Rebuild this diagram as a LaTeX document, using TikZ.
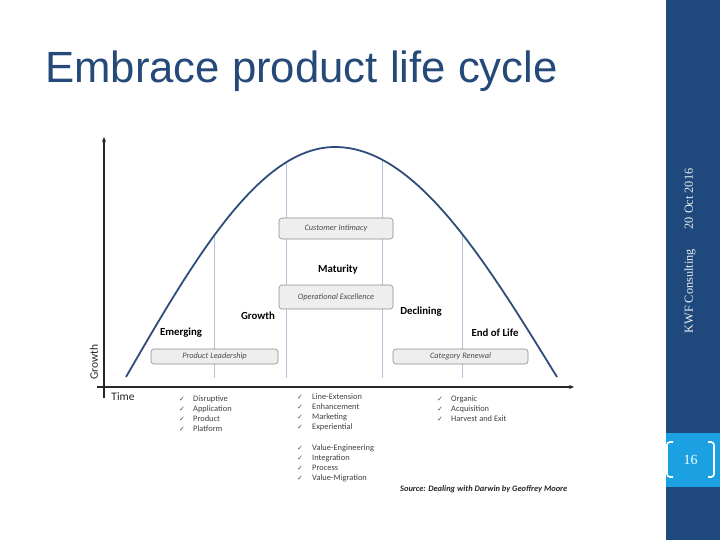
\documentclass[tikz,border=0pt]{standalone}
\usepackage{fontspec}
\setmainfont{Carlito}
\newfontfamily\titlefont{Liberation Sans}
\newfontfamily\sidefont{Liberation Serif}
\newfontfamily\symfont{DejaVu Sans}
\usetikzlibrary{arrows.meta}
\definecolor{sidebar}{HTML}{1F497D}
\definecolor{pagebox}{HTML}{1BA1E2}
\definecolor{curveblue}{HTML}{2E4D7B}
\definecolor{guide}{HTML}{B4C6D6}
\definecolor{boxfill}{HTML}{EEEEEE}
\definecolor{boxline}{HTML}{8C8C8C}
\definecolor{titleblue}{HTML}{254A7A}
\begin{document}
\begin{tikzpicture}[x=1pt,y=-1pt,
  stagebox/.style={draw=boxline, fill=boxfill, rounded corners=3pt, line width=0.6pt,
     inner sep=0, font=\fontsize{8.3}{10}\selectfont\itshape, text=black!70},
  phase/.style={font=\fontsize{10.8}{13}\selectfont\bfseries, inner sep=0},
  item/.style={font=\fontsize{8.4}{10}\selectfont, text=black!75, anchor=west, inner sep=0},
  tickmark/.style={font=\symfont\fontsize{7}{8}\selectfont, text=black!70, inner sep=0},
  guideline/.style={draw=guide, line width=0.7pt},
  axis/.style={draw=black!85, line width=1.3pt}
]
\useasboundingbox (0,0) rectangle (720,540);
% sidebar
\fill[sidebar] (666,0) rectangle (720,540);
\fill[pagebox] (666,433) rectangle (720,487);
\draw[white, line width=1.6pt, rounded corners=3pt] (673,442) -- (667,442) -- (667,477) -- (673,477);
\draw[white, line width=1.6pt, rounded corners=3pt] (708,442) -- (714,442) -- (714,477) -- (708,477);
\node[text=white, font=\sidefont\fontsize{14}{16}\selectfont] (page) at (690.5,460) {16};
\node[rotate=90, text=white!90!sidebar, font=\sidefont\fontsize{12.3}{14}\selectfont] (footer) at (690,251) {KWF Consulting\hspace{1.6em}20 Oct 2016};
% title
\node[anchor=base west, inner sep=0, text=titleblue, font=\titlefont\fontsize{43.7}{50}\selectfont] (title) at (45,83) {Embrace product life cycle};
% axes
\coordinate (ytop) at (104,137);
\coordinate (ybot) at (104,398);
\coordinate (xleft) at (97,387);
\coordinate (xright) at (574,387);
\draw[axis, -{Stealth[length=5pt,width=4pt]}] (ybot) -- (ytop);
\draw[axis, -{Stealth[length=5pt,width=4pt]}] (xleft) -- (xright);
\node[rotate=90, font=\fontsize{11.5}{13}\selectfont, text=black!85] (ylab) at (94,362) {Growth};
\node[font=\fontsize{11.5}{13}\selectfont, text=black!85] (xlab) at (123,397) {Time};
% curve
\coordinate (c1) at (214,236);
\coordinate (c2) at (286,162.5);
\coordinate (c4) at (382,159.6);
\coordinate (c5) at (462,233.8);
\coordinate (base) at (0,378);
\draw[guideline] (c1) -- (c1 |- base);
\draw[guideline] (c2) -- (c2 |- base);
\draw[guideline] (c4) -- (c4 |- base);
\draw[guideline] (c5) -- (c5 |- base);
\draw[curveblue, line width=1.8pt, line join=round]
  plot[domain=126:335, samples=60] (\x, {377-230*cos((335-\x)/209*90)})
  -- plot[domain=335:557, samples=60] (\x, {377-230*cos((\x-335)/222*90)});
% boxes
\node[stagebox, minimum width=114pt, minimum height=21pt] (ci) at (336,228.5) {Customer Intimacy};
\node[stagebox, minimum width=114pt, minimum height=24pt] (oe) at (336,297) {Operational Excellence};
\node[stagebox, minimum width=127pt, minimum height=15pt] (pl) at (214.5,356.5) {Product Leadership};
\node[stagebox, minimum width=135pt, minimum height=15pt] (cr) at (460.5,356.5) {Category Renewal};
% phase labels
\node[phase] (mat) at (338,270) {Maturity};
\node[phase] (emg) at (181,333) {Emerging};
\node[phase] (grw) at (258,316) {Growth};
\node[phase] (dec) at (421,312) {Declining};
\node[phase] (eol) at (495,333) {End of Life};
% lists
\foreach \t [count=\i] in {Disruptive, Application, Product, Platform} {
  \node[tickmark] (ta\i) at (182,{389+10*\i}) {✓};
  \node[item] (la\i) at (193,{389+10*\i}) {\t};
}
\foreach \t [count=\i] in {Line-Extension, Enhancement, Marketing, Experiential} {
  \node[tickmark] (tb\i) at (300,{387+10*\i}) {✓};
  \node[item] (lb\i) at (312,{387+10*\i}) {\t};
}
\foreach \t [count=\i] in {Value-Engineering, Integration, Process, Value-Migration} {
  \node[tickmark] (tc\i) at (300,{438+10*\i}) {✓};
  \node[item] (lc\i) at (312,{438+10*\i}) {\t};
}
\foreach \t [count=\i] in {Organic, Acquisition, Harvest and Exit} {
  \node[tickmark] (td\i) at (440,{389+10*\i}) {✓};
  \node[item] (ld\i) at (451,{389+10*\i}) {\t};
}
\node[anchor=west, inner sep=0, font=\fontsize{8.4}{10}\selectfont\bfseries\itshape, text=black!85] (src) at (400,489) {Source: Dealing with Darwin by Geoffrey Moore};
\end{tikzpicture}
\end{document}
